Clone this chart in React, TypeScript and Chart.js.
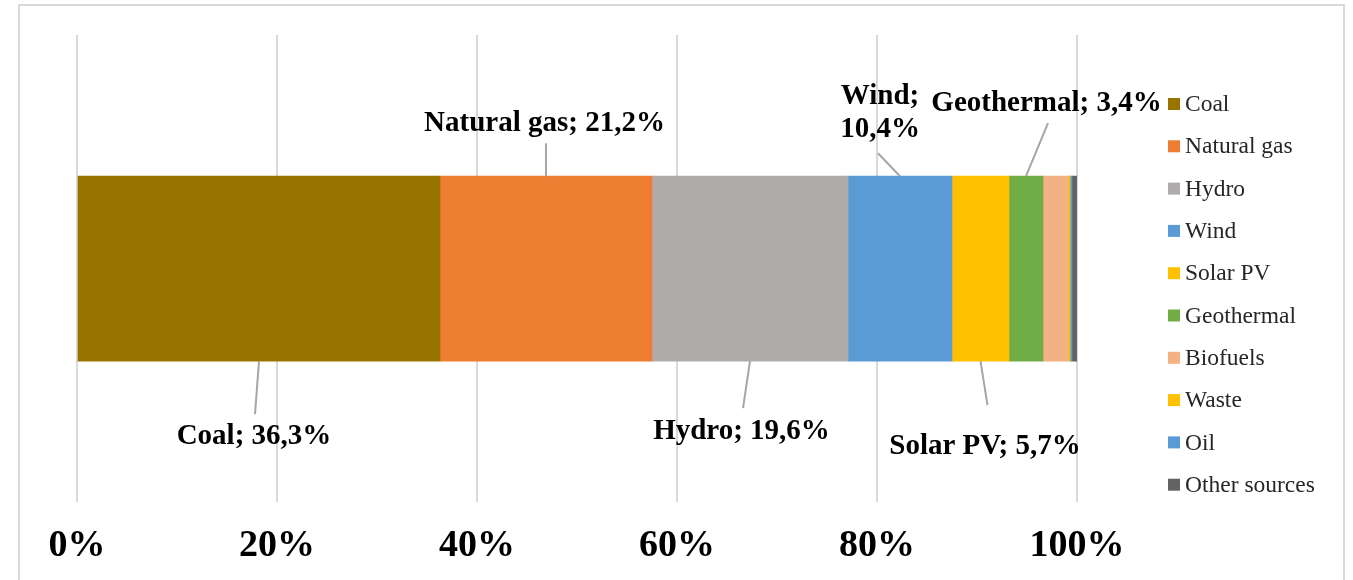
import React, { useEffect, useRef } from "react";
import { Chart, registerables } from "chart.js";

Chart.register(...registerables);

// Electricity generation mix, share of total (%)
const SOURCES = [
  "Coal",
  "Natural gas",
  "Hydro",
  "Wind",
  "Solar PV",
  "Geothermal",
  "Biofuels",
  "Waste",
  "Oil",
  "Other sources",
];
const SHARES = [36.3, 21.2, 19.6, 10.4, 5.7, 3.4, 2.5, 0.2, 0.2, 0.5];
const COLORS = [
  "#997300",
  "#ED7D31",
  "#AFABAB",
  "#5B9BD5",
  "#FFC000",
  "#70AD47",
  "#F4B183",
  "#FFC000",
  "#5B9BD5",
  "#636363",
];
const TICK_LABELS = ["0%", "20%", "40%", "60%", "80%", "100%"];
const CATEGORIES = ["Mix"];

// Callout placement: offsets from the segment centre on the bar's top or bottom edge
type Callout = {
  index: number;
  edge: "top" | "bottom";
  lineEnd: [number, number];
  textAt: [number, number];
  wrap?: boolean;
};
const CALLOUTS: Callout[] = [
  { index: 0, edge: "bottom", lineEnd: [-4, 53], textAt: [-5, 75] },
  { index: 1, edge: "top", lineEnd: [0, -33], textAt: [-1.5, -53] },
  { index: 2, edge: "bottom", lineEnd: [-7, 47], textAt: [-8.5, 70] },
  { index: 3, edge: "top", lineEnd: [-22, -23], textAt: [-20, -63], wrap: true },
  { index: 4, edge: "bottom", lineEnd: [7, 44], textAt: [4.5, 85] },
  { index: 5, edge: "top", lineEnd: [22, -53], textAt: [20.5, -73] },
];

const SERIF = '"Liberation Serif", "Times New Roman", serif';

const formatShare = (v: number) => v.toFixed(1).replace(".", ",") + "%";

const framePlugin = {
  id: "frame",
  beforeDraw(chart: any) {
    const { ctx, width, height } = chart;
    ctx.save();
    ctx.fillStyle = "#ffffff";
    ctx.fillRect(0, 0, width, height);
    ctx.strokeStyle = "#d9d9d9";
    ctx.lineWidth = 2;
    ctx.beginPath();
    ctx.moveTo(19, height + 5);
    ctx.lineTo(19, 5);
    ctx.lineTo(1344, 5);
    ctx.lineTo(1344, height + 5);
    ctx.stroke();
    ctx.restore();
  },
};

const calloutPlugin = {
  id: "callouts",
  afterDatasetsDraw(chart: any) {
    const { ctx } = chart;
    ctx.save();
    ctx.font = `bold 29px ${SERIF}`;
    ctx.fillStyle = "#000000";
    ctx.textAlign = "center";
    ctx.textBaseline = "middle";
    CALLOUTS.forEach((c) => {
      const bar = chart.getDatasetMeta(c.index).data[0] as any;
      if (!bar) return;
      const props = bar.getProps(["x", "y", "base", "height"], true);
      const cx = (props.x + props.base) / 2;
      const ey = c.edge === "top" ? props.y - props.height / 2 : props.y + props.height / 2;
      ctx.strokeStyle = "#a6a6a6";
      ctx.lineWidth = 2;
      ctx.beginPath();
      ctx.moveTo(cx, ey);
      ctx.lineTo(cx + c.lineEnd[0], ey + c.lineEnd[1]);
      ctx.stroke();
      const name = SOURCES[c.index];
      const value = formatShare(SHARES[c.index]);
      const tx = cx + c.textAt[0];
      const ty = ey + c.textAt[1];
      if (c.wrap) {
        ctx.fillText(name + ";", tx, ty - 16.5);
        ctx.fillText(value, tx, ty + 16.5);
      } else {
        ctx.fillText(`${name}; ${value}`, tx, ty);
      }
    });
    ctx.restore();
  },
};

const legendPlugin = {
  id: "sideLegend",
  afterDraw(chart: any) {
    const { ctx } = chart;
    ctx.save();
    ctx.font = `23.5px ${SERIF}`;
    ctx.textAlign = "left";
    ctx.textBaseline = "middle";
    SOURCES.forEach((name, i) => {
      const y = 104 + i * 42.3;
      ctx.fillStyle = COLORS[i];
      ctx.fillRect(1168, y - 6, 12, 12);
      ctx.fillStyle = "#262626";
      ctx.fillText(name, 1185, y + 1);
    });
    ctx.restore();
  },
};

export default function App() {
  const canvasRef = useRef<HTMLCanvasElement | null>(null);

  useEffect(() => {
    if (!canvasRef.current) return;
    const chart = new Chart(canvasRef.current, {
      type: "bar",
      data: {
        labels: CATEGORIES,
        datasets: SOURCES.map((name, i) => ({
          label: name,
          data: [SHARES[i]],
          backgroundColor: COLORS[i],
          borderWidth: 0,
          barThickness: 185,
        })),
      },
      options: {
        indexAxis: "y",
        animation: false,
        responsive: true,
        maintainAspectRatio: false,
        layout: { padding: { left: 77, right: 276, top: 35, bottom: 0 } },
        plugins: {
          legend: { display: false },
          tooltip: { enabled: false },
          title: { display: false },
        },
        scales: {
          x: {
            stacked: true,
            min: 0,
            max: 100,
            border: { display: false },
            grid: { color: "#d9d9d9", lineWidth: 2, drawTicks: false },
            ticks: {
              stepSize: 20,
              padding: 21,
              color: "#000000",
              font: { family: SERIF, size: 38, weight: "bold" },
              callback: (_v: any, idx: number) => TICK_LABELS[idx],
            },
          },
          y: {
            stacked: true,
            display: false,
          },
        },
      },
      plugins: [framePlugin, calloutPlugin, legendPlugin],
    });
    return () => chart.destroy();
  }, []);

  return (
    <div
      style={{
        position: "absolute",
        left: 0,
        top: 0,
        width: 1353,
        height: 580,
        overflow: "hidden",
      }}
    >
      <div style={{ position: "relative", width: 1353, height: 590 }}>
        <canvas ref={canvasRef} />
      </div>
    </div>
  );
}
